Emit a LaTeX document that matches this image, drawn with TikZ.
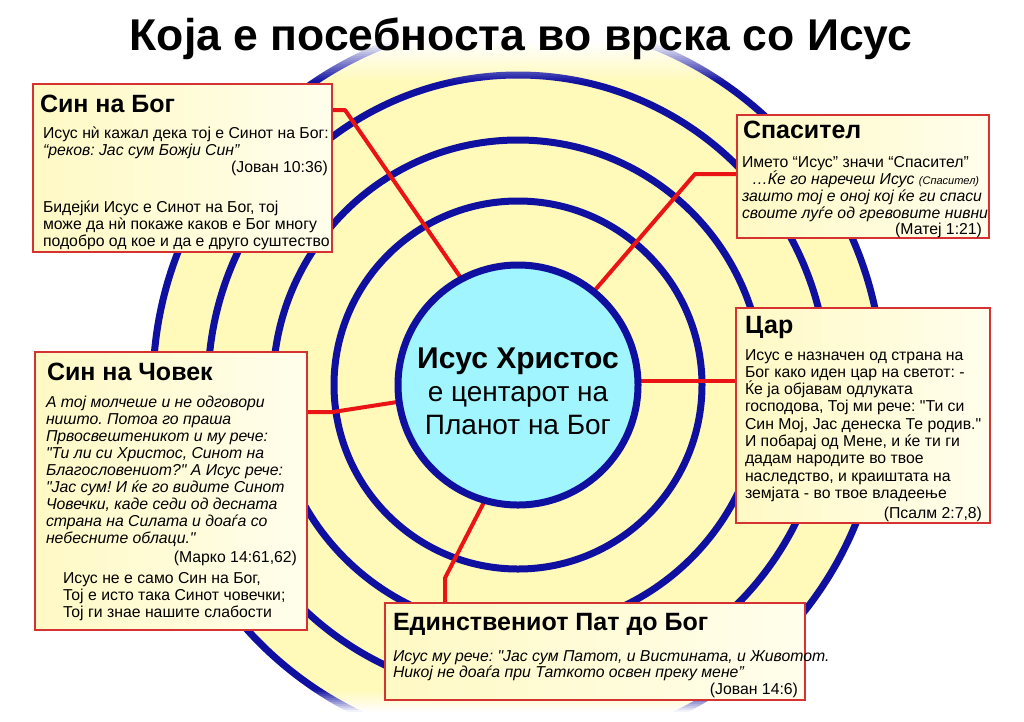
\documentclass[tikz,border=0pt]{standalone}
\usepackage{fontspec}
\setmainfont{Liberation Sans}[Ligatures=TeXOff]
\definecolor{ringblue}{RGB}{16,16,160}
\definecolor{diskyellow}{RGB}{255,250,185}
\definecolor{cyanc}{RGB}{160,245,255}
\definecolor{linered}{RGB}{235,20,20}
\definecolor{boxred}{RGB}{215,50,50}
\definecolor{boxL}{RGB}{255,249,196}
\definecolor{boxR}{RGB}{255,254,236}
\pgfdeclarelayer{back}
\pgfdeclarelayer{mid}
\pgfsetlayers{back,mid,main}
\tikzset{
  ring/.style={draw=ringblue, line width=7pt},
  conn/.style={draw=linered, line width=4pt, line join=round},
  box/.style={rectangle, draw=boxred, line width=2pt, left color=boxL, right color=boxR, inner sep=0pt, outer sep=0pt, anchor=north west},
  txt/.style={inner sep=0pt, outer sep=0pt, anchor=base west},
  ctxt/.style={inner sep=0pt, outer sep=0pt, anchor=base},
}
\newcommand\bodyf{\fontsize{15.8}{17}\selectfont\frenchspacing}
\newcommand\headf{\fontsize{25}{28}\selectfont\bfseries}
\newcommand\ml[1]{\hbox{#1}}
\begin{document}
\begin{tikzpicture}[x=1pt,y=-1pt]
\useasboundingbox (0,0) rectangle (1024,721);
\coordinate (O) at (518,385);
\begin{pgfonlayer}{back}
\fill[white] (0,0) rectangle (1024,721);
\fill[diskyellow] (O) circle[radius=365pt];
\draw[ring] (O) circle[radius=365pt];
\draw[ring] (O) circle[radius=310pt];
\draw[ring] (O) circle[radius=245pt];
\draw[ring] (O) circle[radius=184pt];
\fill[white] (-1,-1) rectangle (1025,42);
\foreach \i in {0,...,19}{\fill[white,opacity={1-(\i+0.5)/20}] (-1,{42+2*\i}) rectangle (1025,{44+2*\i});}
\foreach \i in {0,...,10}{\fill[white,opacity={(\i+0.5)/11}] (-1,{690+2*\i}) rectangle (1025,{692+2*\i});}
\fill[white] (-1,712) rectangle (1025,722);
\end{pgfonlayer}

\node[circle, draw=ringblue, line width=7pt, fill=cyanc, minimum size=240pt, inner sep=0pt, outer sep=0pt] (J) at (O) {};

\node[box, minimum width=299pt, minimum height=168pt] (b1) at (33,84) {};
\node[box, minimum width=252pt, minimum height=123pt] (b2) at (737,115) {};
\node[box, minimum width=254pt, minimum height=215pt] (b3) at (736,308) {};
\node[box, minimum width=272pt, minimum height=278pt] (b4) at (35,352) {};
\node[box, minimum width=420pt, minimum height=97pt] (b5) at (385,603) {};

\begin{pgfonlayer}{mid}
\coordinate (c1) at (345,110);
\draw[conn] (J.118) -- (c1) -- (c1 -| b1.east);
\coordinate (c2) at (695,174);
\draw[conn] (J.51) -- (c2) -- (c2 -| b2.west);
\draw[conn] (J.2) -- (J.2 -| b3.west);
\coordinate (c4) at (333,412);
\draw[conn] (J.188) -- (c4) -- (c4 -| b4.east);
\coordinate (c5) at (445,578);
\draw[conn] (J.254) -- (c5) -- (c5 |- b5.north);
\end{pgfonlayer}

\node[ctxt] (title) at (521,50) {\fontsize{44.5}{48}\bfseries Која е посебноста во врска со Исус};

\node[ctxt] (jt1) at (518,368) {\fontsize{30}{33}\bfseries Исус Христос};
\node[ctxt] (jt2) at (518,401) {\fontsize{28}{33}\selectfont е центарот на};
\node[ctxt] (jt3) at (518,434) {\fontsize{28}{33}\selectfont Планот на Бог};

\node[txt] (t1) at (40,112) {\headf Син на Бог};
\node[txt] (p1) at (43,138) {\bodyf\vtop{%
\ml{Исус нѝ кажал дека тој е Синот на Бог:}%
\ml{\itshape “реков: Јас сум Божји Син”}%
\hbox to 285pt{\hfill (Јован 10:36)}%
\vskip 23pt
\ml{Бидејќи Исус е Синот на Бог, тој}%
\ml{може да нѝ покаже каков е Бог многу}%
\ml{подобро од кое и да е друго суштество}}};

\node[txt] (t2) at (743,138) {\headf Спасител};
\node[txt] (p2) at (742,167) {\bodyf\baselineskip=16.6pt\vtop{%
\ml{Името “Исус” значи “Спасител”}%
\ml{\hskip10pt\itshape …Ќе го наречеш Исус {\fontsize{11}{12}\selectfont(Спасител)}}%
\ml{\itshape зашто тој е оној кој ќе ги спаси}%
\ml{\itshape своите луѓе од гревовите нивни}%
\hbox to 240pt{\hfill (Матеј 1:21)}}};

\node[txt] (t3) at (745,333) {\headf Цар};
\node[txt] (p3) at (745,360) {\bodyf\baselineskip=17.3pt\vtop{%
\ml{Исус е назначен од страна на}%
\ml{Бог како иден цар на светот: -}%
\ml{Ќе ја објавам одлуката}%
\ml{господова, Тој ми рече: "Ти си}%
\ml{Син Мој, Јас денеска Те родив."}%
\ml{И побарај од Мене, и ќе ти ги}%
\ml{дадам народите во твое}%
\ml{наследство, и краиштата на}%
\ml{земјата - во твое владеење}%
\vskip 3pt
\hbox to 237pt{\hfill (Псалм 2:7,8)}}};

\node[txt] (t4) at (47,380) {\headf Син на Човек};
\node[txt] (p4) at (46,407) {\bodyf\vtop{%
\ml{\itshape А тој молчеше и не одговори}%
\ml{\itshape ништо. Потоа го праша}%
\ml{\itshape Првосвештеникот и му рече:}%
\ml{\itshape "Ти ли си Христос, Синот на}%
\ml{\itshape Благословениот?" А Исус рече:}%
\ml{\itshape "Јас сум! И ќе го видите Синот}%
\ml{\itshape Човечки, каде седи од десната}%
\ml{\itshape страна на Силата и доаѓа со}%
\ml{\itshape небесните облаци."}%
\vskip 2pt
\hbox to 251pt{\hfill (Марко 14:61,62)}%
\vskip 4pt
\ml{\hskip17pt Исус не е само Син на Бог,}%
\ml{\hskip17pt Тој е исто така Синот човечки;}%
\ml{\hskip17pt Тој ги знае нашите слабости}}};

\node[txt] (t5) at (393,630) {\headf Единствениот Пат до Бог};
\node[txt] (p5) at (393,661) {\bodyf\baselineskip=16.5pt\vtop{%
\ml{\itshape Исус му рече: "Јас сум Патот, и Вистината, и Животот.}%
\ml{\itshape Никој не доаѓа при Таткото освен преку мене”}%
\hbox to 405pt{\hfill (Јован 14:6)}}};
\end{tikzpicture}
\end{document}
